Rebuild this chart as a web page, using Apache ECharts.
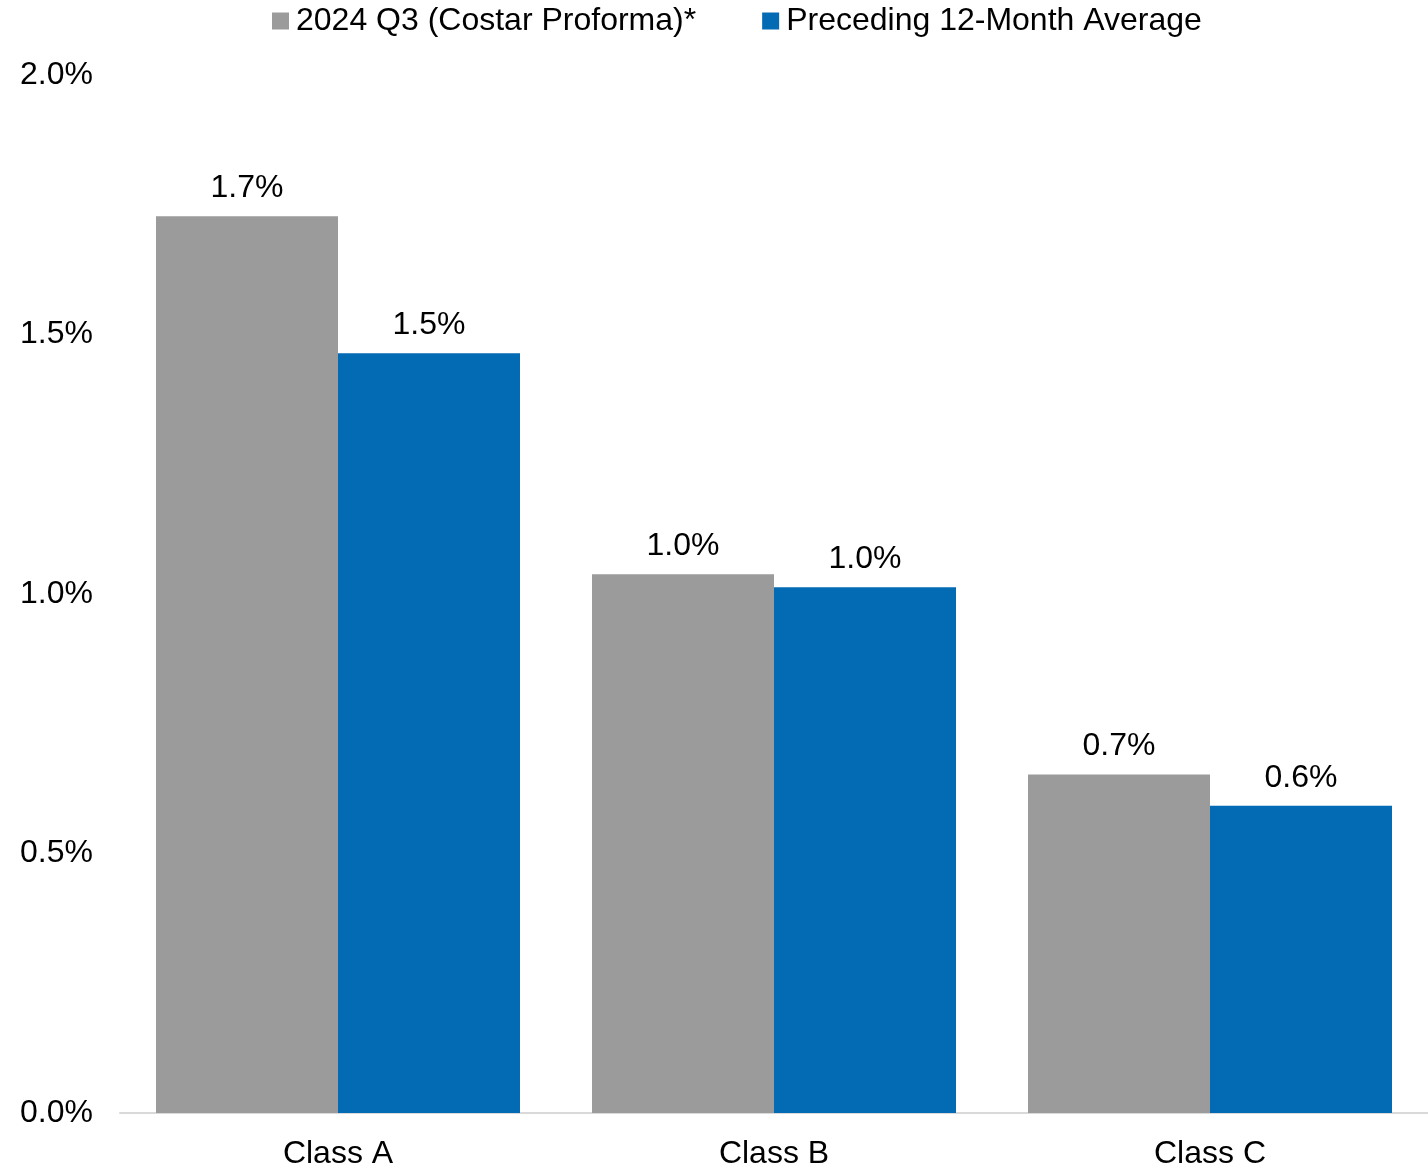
<!DOCTYPE html>
<html>
<head>
<meta charset="utf-8">
<script src="https://cdn.jsdelivr.net/npm/echarts@6/dist/echarts.min.js"></script>
<style>
html,body{margin:0;padding:0;background:#fff;}
#chart{width:1428px;height:1173px;}
</style>
</head>
<body>
<div id="chart"></div>
<script>
const categories = ['Class A', 'Class B', 'Class C'];
const seriesNames = ['2024 Q3 (Costar Proforma)*', 'Preceding 12-Month Average'];
const q3Values = [1.728, 1.038, 0.652];
const avgValues = [1.464, 1.013, 0.592];
const yTicks = [0, 0.5, 1.0, 1.5, 2.0];

const FONT = '"Liberation Sans", Arial, sans-serif';
const FS = 32;
const chart = echarts.init(document.getElementById('chart'), null, {renderer: 'canvas'});

const labelCfg = {
  show: true,
  position: 'top',
  distance: 12,
  color: '#000',
  fontFamily: FONT,
  fontSize: FS,
  formatter: p => p.value.toFixed(1) + '%'
};

chart.setOption({
  animation: false,
  backgroundColor: '#fff',
  legend: {
    top: 0,
    left: 267,
    itemWidth: 17,
    itemHeight: 17,
    itemGap: 66,
    icon: 'rect',
    textStyle: {fontFamily: FONT, fontSize: FS, color: '#000', padding: [0, 0, 0, 2]},
    data: seriesNames
  },
  grid: {left: 120, width: 1312, top: 75, bottom: 60, containLabel: false},
  xAxis: {
    type: 'category',
    data: categories,
    axisLine: {show: true, lineStyle: {color: '#d9d9d9', width: 2}},
    axisTick: {show: false},
    axisLabel: {color: '#000', fontFamily: FONT, fontSize: FS, margin: 25}
  },
  yAxis: {
    type: 'value',
    min: yTicks[0],
    max: yTicks[yTicks.length - 1],
    interval: 0.5,
    splitLine: {show: false},
    axisLine: {show: false},
    axisTick: {show: false},
    axisLabel: {
      color: '#000', fontFamily: FONT, fontSize: FS,
      align: 'left', margin: 100, padding: [6, 0, 0, 0],
      formatter: v => v.toFixed(1) + '%'
    }
  },
  series: [
    {
      name: seriesNames[0], type: 'bar', data: q3Values,
      barWidth: 182, barGap: '0%',
      itemStyle: {color: '#9b9b9b'},
      label: labelCfg
    },
    {
      name: seriesNames[1], type: 'bar', data: avgValues,
      barWidth: 182, barGap: '0%',
      itemStyle: {color: '#036ab4'},
      label: labelCfg
    }
  ]
});
</script>
</body>
</html>
